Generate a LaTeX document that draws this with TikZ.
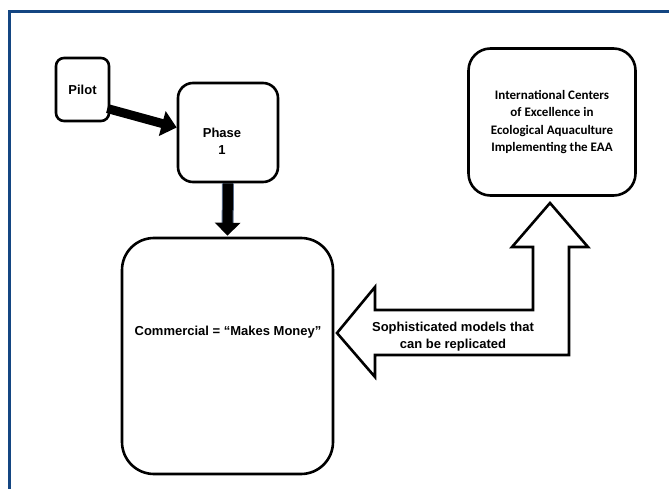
\documentclass[tikz,border=0pt]{standalone}
\usepackage{fontspec}
\setmainfont{Liberation Sans}
\newfontfamily\calib{Carlito}
\usetikzlibrary{arrows.meta,calc}
\definecolor{framebl}{RGB}{20,70,130}
\definecolor{shaftbl}{RGB}{90,110,140}
\begin{document}
\begin{tikzpicture}[x=1pt,y=-1pt,
  box/.style={draw, line width=2.6pt, rounded corners=#1, inner sep=0pt, align=center},
  lbl/.style={font=\fontsize{13}{17}\selectfont\bfseries, align=center, inner sep=0pt},
  blk/.style={draw, line width=2.6pt, fill=white, miter limit=20}]
\useasboundingbox[fill=white] (0,0) rectangle (669,489);
% frame
\draw[framebl, line width=2.2pt] (669,11.5) -- (9.5,11.5) -- (9.5,489);
% boxes
\node[box=8pt, minimum width=53pt, minimum height=63pt, font=\fontsize{13}{17}\selectfont\bfseries] (pilot) at (82.5,89.5) {Pilot};
\node[box=15pt, minimum width=100pt, minimum height=99pt] (phase) at (228,132.5) {};
\node[lbl] (phasetxt) at (222,141) {Phase\\1};
\node[box=22pt, minimum width=167pt, minimum height=147pt, font=\calib\fontsize{13}{17.5}\selectfont\bfseries] (ice) at (552,122) {International Centers\\of Excellence in\\Ecological Aquaculture\\Implementing the EAA};
\node[box=32pt, minimum width=211pt, minimum height=236pt] (comm) at (227.5,356) {};
\node[lbl] (commtxt) at (228,332) {Commercial = “Makes Money”};
% pilot -> phase
\draw[line width=9pt, -{Triangle[length=15pt,width=25pt]}] ($(pilot.east)+(-3,19)$) -- ($(phase.west)+(0,-5)$);
% phase -> commercial
\draw[shaftbl, line width=12pt, shorten >=13pt] (phase.south) -- (comm.north);
\draw[line width=10pt, -{Triangle[length=13pt,width=25pt]}] (phase.south) -- ($(comm.north)+(0,-1)$);
% block arrow
\coordinate (ltip) at (337,333);
\coordinate (utip) at (550,203);
\draw[blk] (ltip) -- (375,287) -- (375,310) -- (533,310) -- (533,247) -- (512,247) -- (utip) -- (588,247) -- (569,247) -- (569,355) -- (375,355) -- (375,377) -- cycle;
\node[lbl] (arrtxt) at (453,337) {Sophisticated models that\\can be replicated};
\end{tikzpicture}
\end{document}
